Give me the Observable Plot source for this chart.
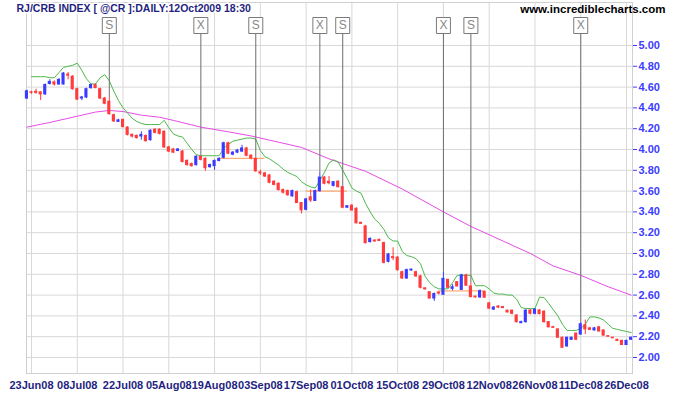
<!DOCTYPE html>
<html>
<head>
<meta charset="utf-8">
<script src="https://cdn.jsdelivr.net/npm/d3@7"></script>
<script src="https://cdn.jsdelivr.net/npm/@observablehq/plot@0.6"></script>
<style>
  html, body { margin: 0; padding: 0; background: #fff; }
  #chart { width: 675px; height: 395px; }
</style>
</head>
<body>
<div id="chart"></div>
<script>
// ---- data ----
const titleText = "RJ/CRB INDEX [ @CR ]:DAILY:12Oct2009 18:30";
const siteText = "www.incrediblecharts.com";

const tickDays = [0, 10, 20, 30, 40, 50, 60, 70, 80, 90, 100, 110, 120, 130];
const tickLabels = ["23Jun08","08Jul08","22Jul08","05Aug08","19Aug08","03Sep08","17Sep08",
                    "01Oct08","15Oct08","29Oct08","12Nov08","26Nov08","11Dec08","26Dec08"];
const yTicks = [2.0,2.2,2.4,2.6,2.8,3.0,3.2,3.4,3.6,3.8,4.0,4.2,4.4,4.6,4.8,5.0];

// daily candles, first one is trading day -1 (one day before 23Jun08)
const firstDay = -1;
const opens = [4.49,4.55,4.555,4.55,4.53,4.63,4.645,4.625,4.625,4.72,4.70,4.58,4.49,4.50,4.59,4.62,4.58,4.49,4.46,4.33,
  4.265,4.285,4.21,4.14,4.13,4.125,4.13,4.09,4.19,4.19,4.17,4.02,4.00,3.985,3.98,3.89,3.86,3.85,3.93,3.91,
  3.83,3.84,3.89,3.92,4.06,3.95,3.97,3.98,4.01,3.94,3.91,3.78,3.77,3.75,3.69,3.67,3.61,3.60,3.55,3.59,
  3.485,3.42,3.54,3.505,3.60,3.73,3.69,3.65,3.69,3.638,3.44,3.46,3.43,3.295,3.26,3.11,3.125,3.13,3.10,2.92,
  2.965,2.96,2.82,2.76,2.837,2.82,2.78,2.665,2.628,2.567,2.625,2.603,2.747,2.66,2.724,2.65,2.79,2.683,2.585,2.577,
  2.63,2.52,2.46,2.49,2.485,2.45,2.45,2.404,2.33,2.34,2.452,2.42,2.452,2.44,2.34,2.292,2.27,2.19,2.106,2.17,
  2.23,2.22,2.31,2.28,2.26,2.29,2.26,2.205,2.19,2.17,2.16,2.12,2.17];
const highs = [4.57,4.56,4.58,4.555,4.63,4.67,4.66,4.68,4.74,4.74,4.71,4.59,4.51,4.59,4.63,4.63,4.59,4.50,4.50,4.34,
  4.29,4.29,4.22,4.15,4.14,4.17,4.14,4.19,4.20,4.20,4.18,4.03,4.01,4.01,3.99,3.90,3.87,3.94,3.935,3.92,
  3.86,3.90,3.92,4.07,4.07,3.98,4.00,4.04,4.02,3.95,3.925,3.80,3.78,3.76,3.70,3.68,3.62,3.61,3.61,3.60,
  3.49,3.53,3.61,3.61,3.78,3.74,3.74,3.69,3.70,3.64,3.46,3.47,3.44,3.30,3.27,3.15,3.13,3.14,3.11,3.00,
  3.055,2.97,2.83,2.85,2.85,2.83,2.79,2.67,2.63,2.62,2.63,2.82,2.75,2.70,2.73,2.80,2.80,2.72,2.59,2.65,
  2.64,2.53,2.49,2.50,2.49,2.455,2.455,2.41,2.35,2.46,2.46,2.47,2.46,2.45,2.345,2.30,2.275,2.195,2.195,2.195,
  2.235,2.34,2.36,2.29,2.29,2.30,2.265,2.21,2.195,2.175,2.165,2.165,2.195];
const lows = [4.48,4.53,4.53,4.47,4.52,4.62,4.61,4.62,4.62,4.67,4.57,4.47,4.47,4.49,4.58,4.585,4.48,4.43,4.33,4.26,
  4.26,4.21,4.13,4.11,4.10,4.09,4.07,4.08,4.15,4.14,4.01,3.97,3.96,3.98,3.87,3.84,3.83,3.84,3.89,3.79,
  3.82,3.80,3.88,3.91,3.95,3.94,3.96,3.97,3.93,3.90,3.78,3.75,3.73,3.67,3.65,3.60,3.57,3.55,3.54,3.48,
  3.38,3.41,3.49,3.50,3.59,3.66,3.66,3.64,3.63,3.43,3.435,3.41,3.285,3.28,3.09,3.10,3.11,3.115,2.90,2.91,
  2.93,2.83,2.75,2.75,2.83,2.77,2.66,2.65,2.56,2.54,2.60,2.60,2.665,2.64,2.68,2.645,2.685,2.575,2.57,2.57,
  2.57,2.46,2.455,2.47,2.47,2.43,2.41,2.33,2.325,2.33,2.41,2.41,2.41,2.33,2.285,2.28,2.185,2.09,2.10,2.165,
  2.165,2.215,2.22,2.26,2.255,2.245,2.205,2.195,2.18,2.155,2.115,2.115,2.165];
const closes = [4.56,4.545,4.545,4.53,4.62,4.65,4.625,4.67,4.73,4.71,4.58,4.48,4.50,4.58,4.62,4.59,4.49,4.44,4.34,4.27,
  4.28,4.215,4.14,4.125,4.11,4.14,4.08,4.18,4.16,4.15,4.02,3.98,3.97,4.00,3.88,3.85,3.84,3.93,3.90,3.82,
  3.85,3.89,3.91,4.06,3.96,3.97,3.99,4.01,3.94,3.915,3.79,3.77,3.74,3.68,3.66,3.61,3.585,3.56,3.60,3.485,
  3.415,3.52,3.51,3.60,3.73,3.67,3.675,3.686,3.638,3.44,3.455,3.413,3.29,3.285,3.10,3.14,3.115,3.12,2.91,2.99,
  2.955,2.84,2.76,2.84,2.845,2.78,2.67,2.655,2.567,2.61,2.615,2.756,2.67,2.675,2.683,2.79,2.69,2.58,2.578,2.638,
  2.575,2.47,2.48,2.48,2.475,2.433,2.42,2.34,2.34,2.45,2.42,2.46,2.417,2.34,2.29,2.285,2.19,2.093,2.19,2.19,
  2.17,2.32,2.27,2.265,2.28,2.25,2.21,2.20,2.185,2.16,2.12,2.16,2.19];

// green trailing stop, one value per day from day 0
const stopFirstDay = 0;
const stopValues = [4.70,4.70,4.70,4.70,4.69,4.69,4.74,4.79,4.80,4.81,
  4.83,4.76,4.68,4.63,4.63,4.69,4.72,4.66,4.56,4.47,
  4.40,4.35,4.30,4.27,4.25,4.24,4.24,4.24,4.24,4.28,
  4.21,4.15,4.13,4.12,4.06,4.00,3.95,3.94,3.94,3.94,
  3.94,3.94,4.01,4.05,4.08,4.09,4.10,4.11,4.11,4.10,
  3.99,3.93,3.91,3.88,3.85,3.81,3.78,3.76,3.74,3.69,
  3.66,3.64,3.63,3.70,3.78,3.87,3.90,3.88,3.80,3.72,
  3.63,3.60,3.58,3.48,3.40,3.33,3.29,3.23,3.15,3.12,
  3.12,3.02,2.98,2.97,2.95,2.90,2.78,2.72,2.68,2.66,
  2.66,2.66,2.72,2.79,2.79,2.79,2.79,2.69,2.69,2.69,
  2.66,2.62,2.61,2.61,2.60,2.60,2.56,2.48,2.47,2.47,
  2.47,2.58,2.575,2.52,2.46,2.40,2.32,2.26,2.26,2.26,
  2.28,2.32,2.39,2.39,2.38,2.36,2.32,2.28,2.27,2.26,
  2.25,2.24];

// magenta moving average, read at these days
const maDays =   [-1, 4, 10, 14, 17, 20, 24, 28, 31, 37, 43, 48, 52, 59, 65, 73, 81, 90, 96, 109, 114, 120, 126, 131];
const maValues = [4.215,4.26,4.32,4.36,4.375,4.365,4.33,4.31,4.28,4.215,4.17,4.13,4.09,4.02,3.91,3.79,3.62,3.40,3.26,3.00,2.88,2.79,2.68,2.60];

// orange stop levels
const levelStart = [41, 60, 89];
const levelEnd   = [51, 69, 99];
const levelValue = [3.915, 3.60, 2.64];

// signals
const signalDays  = [17, 37, 49, 63, 68, 90, 96, 120];
const signalTypes = ["S", "X", "S", "X", "S", "X", "S", "X"];

// ---- build tables ----
const RED = "#ff3b3b", BLUE = "#3b3bff";
const yBottom = 1.846, yTop = 5.4135;
const candles = opens.map((o, k) => ({
  day: firstDay + k, open: o, high: highs[k], low: lows[k], close: closes[k],
  color: closes[k] >= o ? BLUE : RED
}));
const byDay = new Map(candles.map(d => [d.day, d]));
const stops = stopValues.map((v, k) => ({day: stopFirstDay + k, value: v}));
const ma = maDays.map((d, k) => ({day: d, value: maValues[k]}));
const levels = levelStart.map((s, k) => ({start: s, end: levelEnd[k], value: levelValue[k]}));
const signals = signalDays.map((d, k) => ({day: d, type: signalTypes[k], high: byDay.get(d).high, top: yTop}));

const halfBody = 0.34;
const boxSymbol = { draw(ctx) { ctx.moveTo(-7, -8); ctx.lineTo(7, -8); ctx.lineTo(7, 8); ctx.lineTo(-7, 8); ctx.closePath(); } };

const chart = Plot.plot({
  width: 675,
  height: 395,
  marginLeft: 26,
  marginRight: 43,
  marginTop: 2,
  marginBottom: 22,
  style: { fontFamily: "'Liberation Sans', Arial, sans-serif", background: "white" },
  x: { domain: [-1.092, 131.31] },
  y: { domain: [yBottom, yTop] },
  marks: [
    Plot.gridX({ ticks: tickDays, stroke: "#d8d8d8", strokeOpacity: 1 }),
    Plot.gridY({ ticks: yTicks, stroke: "#d8d8d8", strokeOpacity: 1 }),
    Plot.frame({ stroke: "#d0d0d0" }),
    Plot.axisY({ ticks: yTicks, anchor: "right", tickSize: 4, tickPadding: 2,
      tickFormat: d => d.toFixed(2), color: "#3c3cff", fontWeight: "bold", fontSize: 11, label: null }),
    Plot.axisX({ ticks: tickDays, tickSize: 0, tickPadding: 8,
      tickFormat: d => tickLabels[tickDays.indexOf(d)], color: "#1f1f7f", fontWeight: "bold", fontSize: 11, label: null }),
    Plot.line(ma, { x: "day", y: "value", stroke: "#e64ce6", strokeWidth: 1 }),
    Plot.ruleY(levels, { x1: "start", x2: "end", y: "value", stroke: "#ff9955", strokeWidth: 1 }),
    Plot.line(stops, { x: "day", y: "value", stroke: "#4cb84c", strokeWidth: 1 }),
    Plot.ruleX(candles, { x: "day", y1: "low", y2: "high", stroke: "color", strokeWidth: 1 }),
    Plot.rect(candles, { x1: d => d.day - halfBody, x2: d => d.day + halfBody, y1: "open", y2: "close",
      fill: "color", insetTop: -0.5, insetBottom: -0.5 }),
    Plot.ruleX(signals, { x: "day", y1: "high", y2: "top", insetBottom: -31, stroke: "#6e6e6e", strokeWidth: 1 }),
    Plot.dot(signals, { x: "day", frameAnchor: "top", dy: 23, symbol: boxSymbol, r: 4,
      fill: "white", stroke: "#7a7a7a", strokeWidth: 1 }),
    Plot.text(signals, { x: "day", text: "type", frameAnchor: "top", dy: 23, lineAnchor: "middle",
      fill: "#888", fontSize: 12 }),
    Plot.text([titleText], { text: d => d, frameAnchor: "top-left", dx: -10, dy: 2, lineAnchor: "top",
      textAnchor: "start", fill: "#1f1f7f", stroke: "white", strokeWidth: 3, fontWeight: "bold", fontSize: 10.5 }),
    Plot.text([siteText], { text: d => d, frameAnchor: "top-right", dx: 33, dy: 2, lineAnchor: "top",
      textAnchor: "end", fill: "#000", fontWeight: "bold", fontSize: 11.5 })
  ]
});
document.getElementById("chart").appendChild(chart);
</script>
</body>
</html>
